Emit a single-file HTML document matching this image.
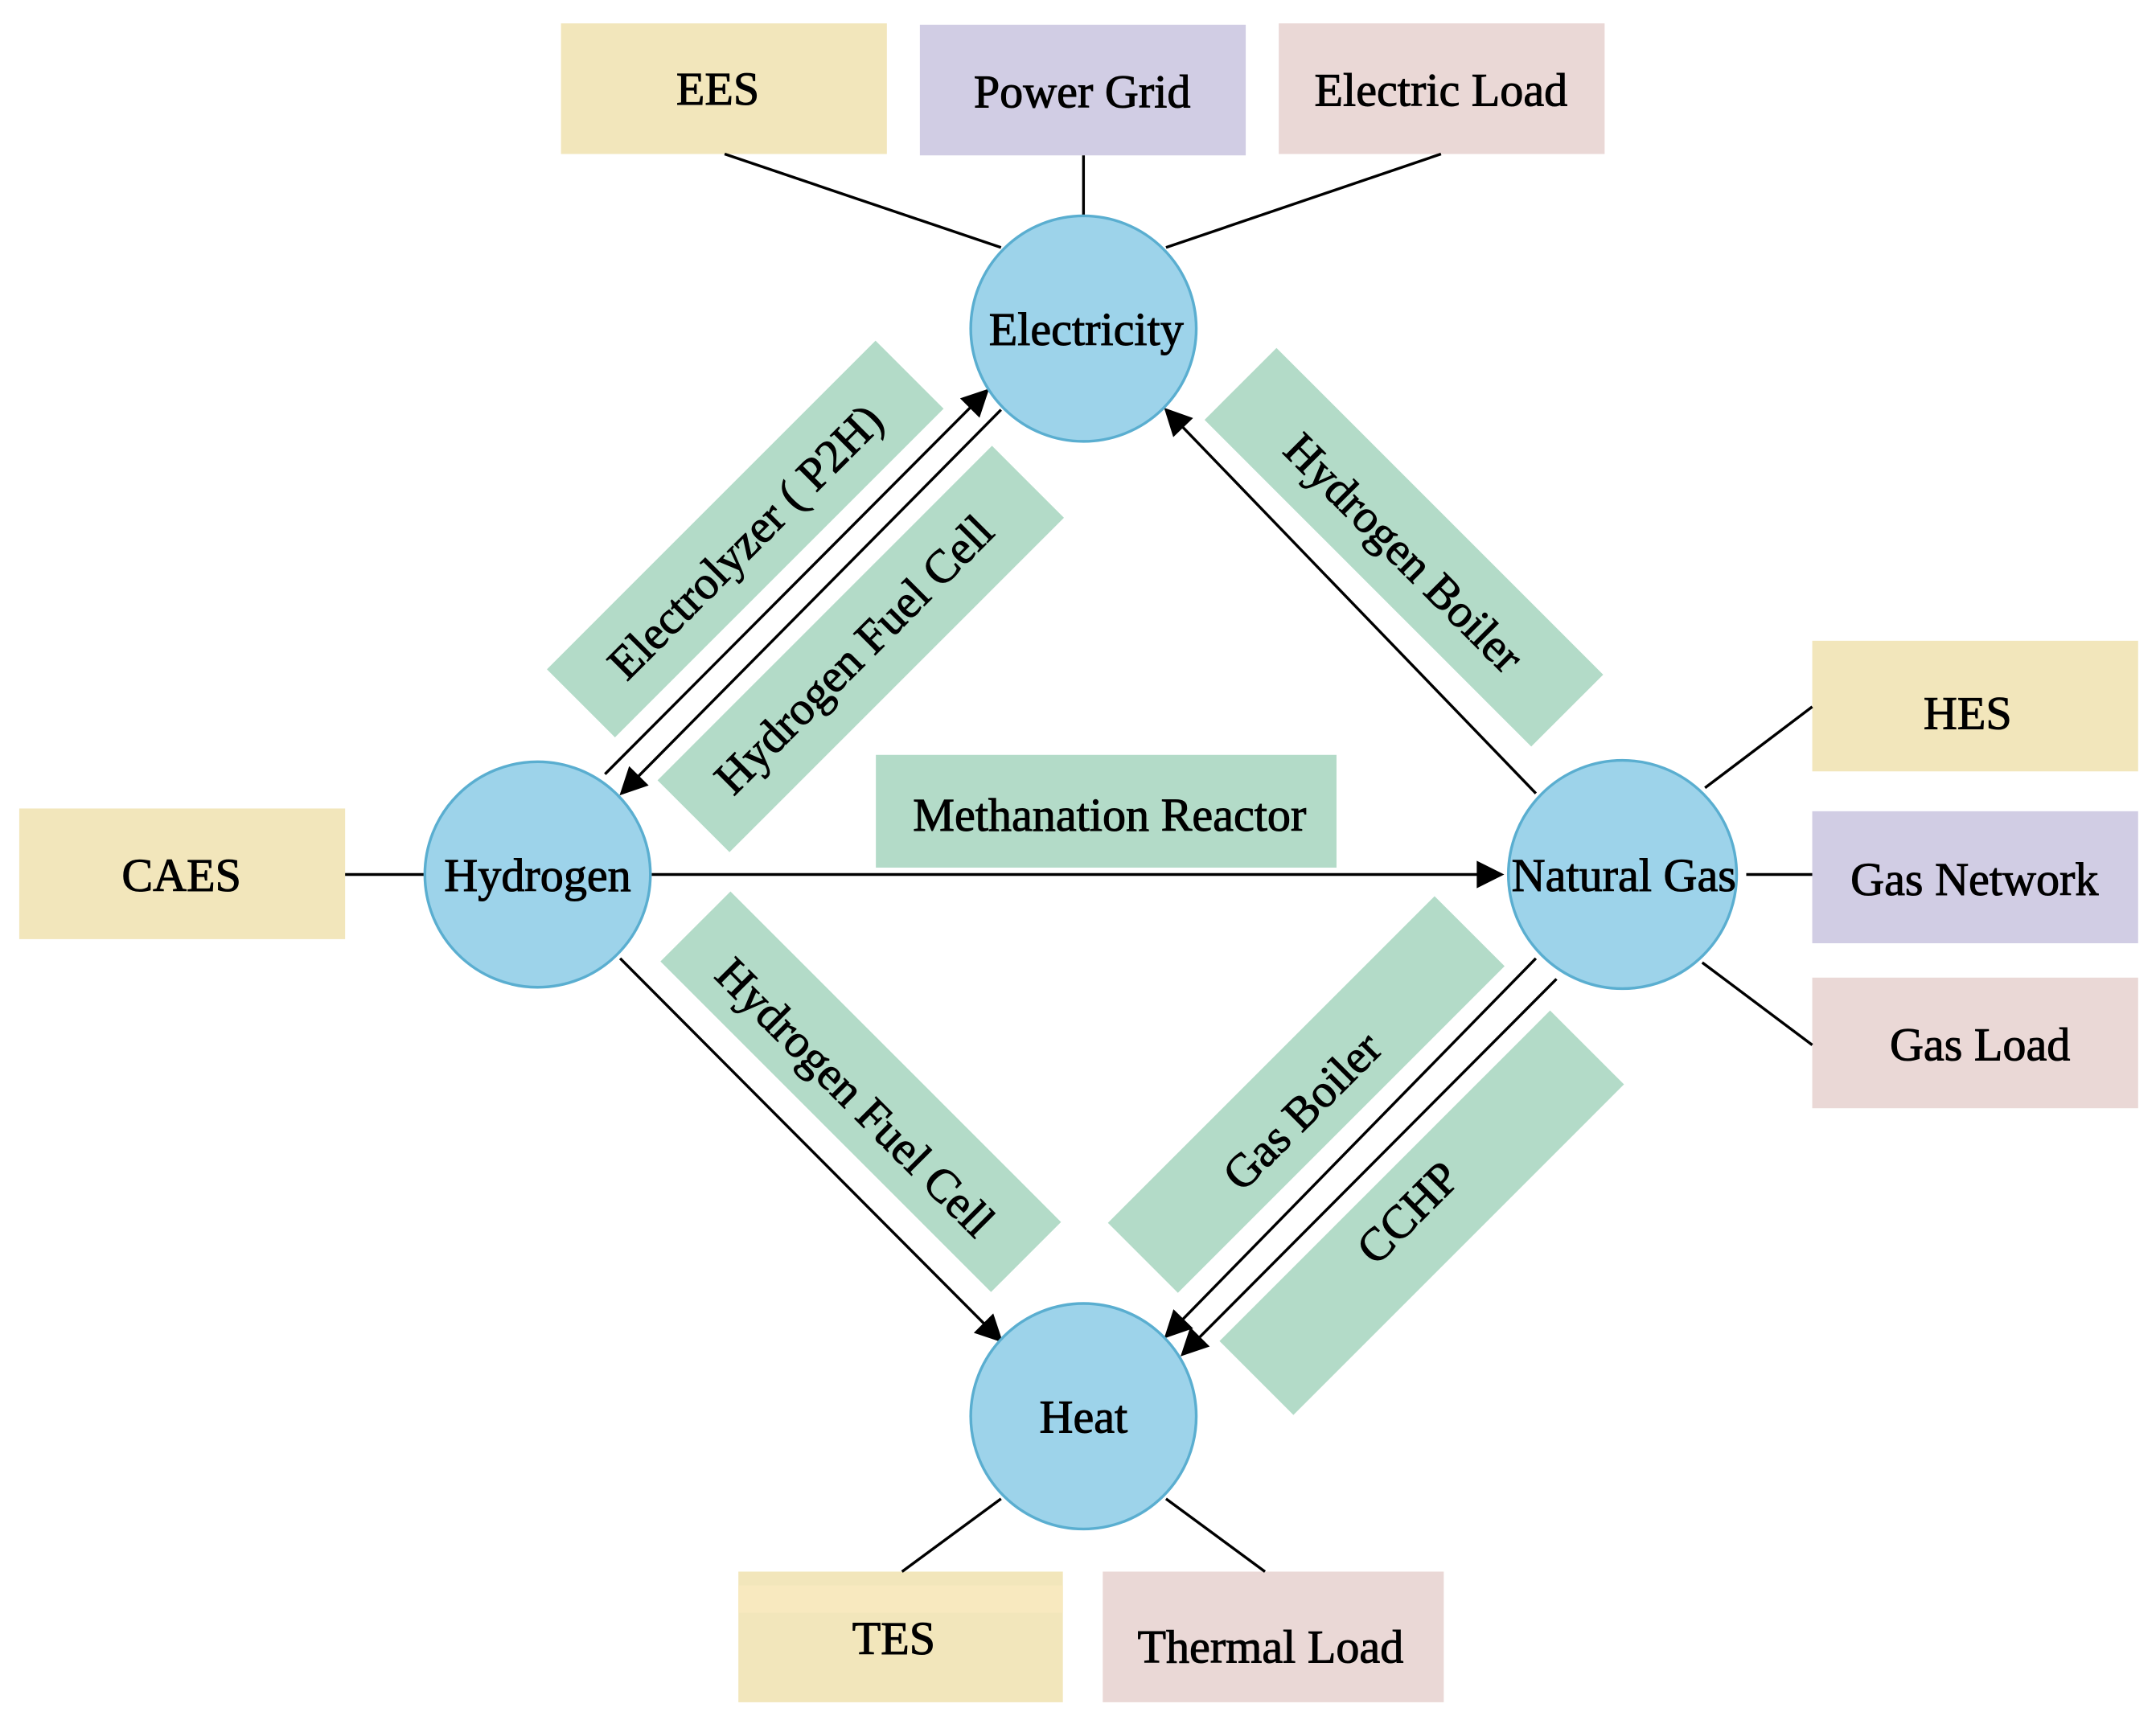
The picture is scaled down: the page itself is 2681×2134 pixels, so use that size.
<!DOCTYPE html>
<html><head><meta charset="utf-8"><style>html,body{margin:0;padding:0;background:#fff}svg{display:block}</style></head>
<body>
<svg width="2681" height="2134" viewBox="0 0 1568 1248" preserveAspectRatio="none" xmlns="http://www.w3.org/2000/svg" font-family="'Liberation Serif', serif" font-size="34" fill="#000">
<defs>
<marker id="b" viewBox="0 0 10 10" refX="9" refY="5" markerWidth="22" markerHeight="20" markerUnits="userSpaceOnUse" orient="auto"><path d="M0,0 L10,5 L0,10 z" fill="#000"/></marker>
</defs>
<rect x="408" y="17" width="237" height="95" fill="#f2e6bb"/>
<rect x="669" y="18" width="237" height="95" fill="#d1cde4"/>
<rect x="930" y="17" width="237" height="95" fill="#ead8d6"/>
<rect x="14" y="588" width="237" height="95" fill="#f2e6bb"/>
<rect x="1318" y="466" width="237" height="95" fill="#f2e6bb"/>
<rect x="1318" y="590" width="237" height="96" fill="#d1cde4"/>
<rect x="1318" y="711" width="237" height="95" fill="#ead8d6"/>
<rect x="537" y="1143" width="236" height="95" fill="#f2e6bb"/>
<rect x="537" y="1153" width="236" height="20" fill="#f8e9bf"/>
<rect x="802" y="1143" width="248" height="95" fill="#ead8d6"/>
<g fill="#b3dbc8">
<rect x="-169" y="-35" width="338" height="70" transform="translate(542,392) rotate(-45)"/>
<rect x="-172" y="-37" width="344" height="74" transform="translate(626,472) rotate(-45)"/>
<rect x="-168" y="-37" width="336" height="74" transform="translate(1021,398) rotate(45)"/>
<rect x="637" y="549" width="335" height="82"/>
<rect x="-170" y="-36" width="340" height="72" transform="translate(626,794) rotate(45)"/>
<rect x="-168" y="-36" width="336" height="72" transform="translate(950,796) rotate(-45)"/>
<rect x="-170" y="-38" width="340" height="76" transform="translate(1034,882) rotate(-45)"/>
</g>
<g stroke="#000" stroke-width="2" fill="none">
<line x1="527" y1="112" x2="728" y2="180"/>
<line x1="788" y1="113" x2="788" y2="157"/>
<line x1="1048" y1="112" x2="848" y2="180"/>
<line x1="251" y1="636" x2="309" y2="636"/>
<line x1="1318" y1="514" x2="1240" y2="573"/>
<line x1="1270" y1="636" x2="1318" y2="636"/>
<line x1="1238" y1="700" x2="1318" y2="760"/>
<line x1="656" y1="1143" x2="728" y2="1090"/>
<line x1="920" y1="1143" x2="848" y2="1090"/>
<line x1="440" y1="563" x2="718" y2="284" marker-end="url(#b)"/>
<line x1="728" y1="298" x2="452" y2="577" marker-end="url(#b)"/>
<line x1="1117" y1="577" x2="848" y2="298" marker-end="url(#b)"/>
<line x1="474" y1="636" x2="1092" y2="636" marker-end="url(#b)"/>
<line x1="451" y1="697" x2="728" y2="975" marker-end="url(#b)"/>
<line x1="1117" y1="697" x2="848" y2="972" marker-end="url(#b)"/>
<line x1="1132" y1="712" x2="860" y2="985" marker-end="url(#b)"/>
</g>
<g fill="#9dd3ea" stroke="#5aaed0" stroke-width="2">
<circle cx="788" cy="239" r="82"/>
<circle cx="391" cy="636" r="82"/>
<circle cx="1180" cy="636" r="83"/>
<circle cx="788" cy="1030" r="82"/>
</g>
<g text-anchor="middle" stroke="#000" stroke-width="0.6">
<text x="522" y="76">EES</text>
<text x="787" y="78">Power Grid</text>
<text x="1048" y="77">Electric Load</text>
<text x="132" y="648">CAES</text>
<text x="1431" y="530">HES</text>
<text x="1436" y="651">Gas Network</text>
<text x="1440" y="771">Gas Load</text>
<text x="650" y="1203">TES</text>
<text x="924" y="1209">Thermal Load</text>
<text transform="translate(550,402) rotate(-45)">Electrolyzer ( P2H)</text>
<text transform="translate(629,484) rotate(-45)">Hydrogen Fuel Cell</text>
<text transform="translate(1013,410) rotate(45)">Hydrogen Boiler</text>
<text x="807" y="604">Methanation Reactor</text>
<text transform="translate(614,806) rotate(45)">Hydrogen Fuel Cell</text>
<text transform="translate(955,816) rotate(-45)">Gas Boiler</text>
<text transform="translate(1032,890) rotate(-45)">CCHP</text>
<text x="790" y="251">Electricity</text>
<text x="391" y="648">Hydrogen</text>
<text x="1181" y="648">Natural Gas</text>
<text x="788" y="1042">Heat</text>
</g>
</svg>
</body></html>
